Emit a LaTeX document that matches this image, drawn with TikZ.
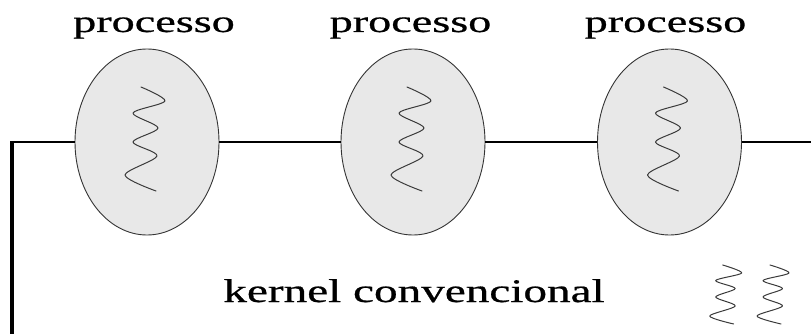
\documentclass[tikz,border=0pt]{standalone}
\usepackage{fontspec}
\setmainfont{Liberation Serif}
\newfontfamily\lblfont{Liberation Serif}[FakeBold=0.6]
\usetikzlibrary{shapes.geometric}
\definecolor{procfill}{HTML}{E8E8E8}
\definecolor{edgegray}{HTML}{333333}
\definecolor{wavegray}{HTML}{3A3A3A}
\tikzset{
  procbox/.style={ellipse, draw=edgegray, line width=0.9pt, fill=procfill,
    minimum width=144pt, minimum height=186pt, inner sep=0pt},
  wire/.style={line width=2pt, black},
  thickwire/.style={line width=3.2pt, black},
  wavepath/.style={line width=1pt, wavegray, line cap=round, line join=round},
  proclabel/.style={anchor=base, inner sep=0pt, font=\lblfont\fontsize{31}{32}\selectfont},
  kernlabel/.style={anchor=base, inner sep=0pt, font=\lblfont\fontsize{33}{34}\selectfont}
}
\begin{document}
\begin{tikzpicture}[x=1pt,y=-1pt]
\useasboundingbox (0,0) rectangle (811,334);
% corners of the wire
\coordinate (bl) at (12,334);
\coordinate (tl) at (12,142);
\coordinate (tr) at (811,142);
% processes
\node[procbox] (p1) at (147,142) {};
\node[procbox] (p2) at (413,142) {};
\node[procbox] (p3) at (669.5,142) {};
% wire
\draw[thickwire] (bl) -- (tl);
\draw[wire] ([xshift=-1.6pt]tl) -- (p1.west);
\draw[wire] (p1.east) -- (p2.west);
\draw[wire] (p2.east) -- (p3.west);
\draw[wire] (p3.east) -- (tr);
% threads inside processes
\foreach \p in {p1,p2,p3}{
  \begin{scope}[shift={(\p.center)}]
    \draw[wavepath] plot[smooth, tension=0.5] coordinates
      {(-6,-55) (18,-41) (-14,-29) (11,-14) (-14,0) (10,14) (-22,33) (9,49)};
  \end{scope}
}
% labels
\node[proclabel] (t1) at (154,32) {\scalebox{1.49}[1]{processo}};
\node[proclabel] (t2) at (410.5,32) {\scalebox{1.49}[1]{processo}};
\node[proclabel] (t3) at (665.5,32) {\scalebox{1.49}[1]{processo}};
\node[kernlabel] (k) at (414,302) {\scalebox{1.43}[1]{kernel convencional}};
% kernel threads
\foreach \sx in {722.7,770}{
  \begin{scope}[shift={(\sx,265)}]
    \draw[wavepath] plot[smooth, tension=0.5] coordinates
      {(0,0) (19,8) (-7,15.5) (12.5,23.5) (-7,32) (12.5,41) (-13,51) (11,59)};
  \end{scope}
}
\end{tikzpicture}
\end{document}
